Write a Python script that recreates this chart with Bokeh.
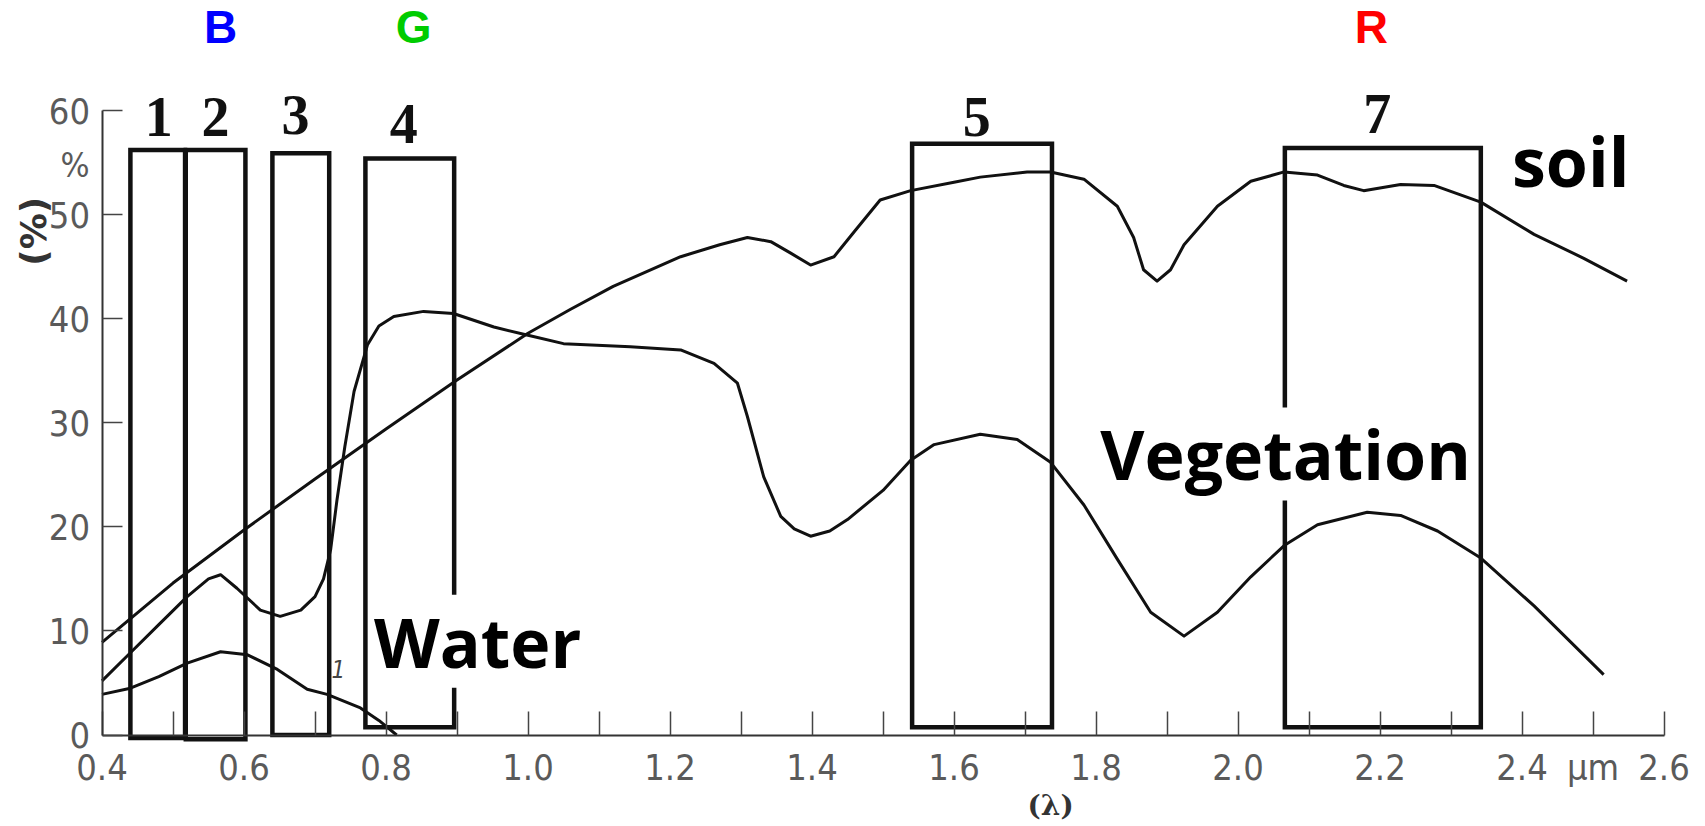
import math
from bokeh.plotting import figure
from bokeh.models import Range1d, LinearAxis, FixedTicker, Label, ColumnDataSource
from bokeh.embed import file_html
from bokeh.resources import INLINE
from bokeh.core.properties import value

# ---------------- data ----------------
soil_wl = [0.40, 0.50, 0.60, 0.70, 0.80, 0.90, 1.00, 1.06, 1.12, 1.215, 1.27, 1.309,
           1.342, 1.37, 1.398, 1.431, 1.46, 1.496, 1.539, 1.60, 1.637, 1.703, 1.736,
           1.783, 1.83, 1.853, 1.867, 1.886, 1.905, 1.924, 1.971, 2.018, 2.065, 2.112,
           2.149, 2.177, 2.229, 2.276, 2.342, 2.417, 2.487, 2.548]
soil_pct = [8.9, 14.6, 19.7, 24.6, 29.4, 34.1, 38.6, 40.9, 43.1, 45.95, 47.1, 47.8,
            47.4, 46.3, 45.15, 45.95, 48.4, 51.4, 52.3, 53.1, 53.6, 54.1, 54.1,
            53.4, 50.8, 47.8, 44.7, 43.6, 44.7, 47.1, 50.8, 53.2, 54.1, 53.8,
            52.8, 52.3, 52.9, 52.8, 51.2, 48.1, 45.8, 43.6]

veg_wl = [0.40, 0.44, 0.48, 0.52, 0.55, 0.567, 0.59, 0.623, 0.651, 0.68, 0.70, 0.712,
          0.722, 0.731, 0.742, 0.755, 0.774, 0.79, 0.811, 0.853, 0.895, 0.952, 1.00,
          1.05, 1.144, 1.215, 1.262, 1.295, 1.309, 1.332, 1.356, 1.375, 1.398, 1.425,
          1.45, 1.50, 1.539, 1.572, 1.637, 1.689, 1.736, 1.783, 1.83, 1.877, 1.924,
          1.971, 2.018, 2.065, 2.112, 2.182, 2.229, 2.281, 2.342, 2.417, 2.515]
veg_pct = [5.2, 7.9, 10.6, 13.3, 15.0, 15.4, 14.1, 12.0, 11.4, 12.0, 13.3, 15.0,
           17.8, 22.6, 27.7, 33.0, 37.5, 39.3, 40.2, 40.7, 40.5, 39.2, 38.4,
           37.6, 37.3, 37.0, 35.7, 33.8, 30.6, 24.8, 21.0, 19.8, 19.1, 19.6,
           20.7, 23.5, 26.4, 27.9, 28.9, 28.4, 26.2, 22.1, 16.9, 11.8, 9.5,
           11.8, 15.2, 18.2, 20.2, 21.4, 21.1, 19.6, 17.0, 12.4, 5.8]

water_wl = [0.40, 0.44, 0.48, 0.52, 0.567, 0.605, 0.647, 0.689, 0.717, 0.764, 0.79, 0.815]
water_pct = [3.9, 4.5, 5.6, 6.9, 8.0, 7.7, 6.3, 4.4, 3.9, 2.6, 1.4, 0.0]

band_names = ["1", "2", "3", "4", "5", "7"]
band_start = [0.440, 0.518, 0.640, 0.771, 1.541, 2.066]
band_end = [0.517, 0.602, 0.720, 0.896, 1.738, 2.342]
band_top = [56.2, 56.2, 55.9, 55.4, 56.8, 56.4]
band_bottom = [-0.3, -0.4, 0.0, 0.75, 0.75, 0.75]
band_label_x = [0.480, 0.560, 0.6725, 0.825, 1.632, 2.196]
band_label_y = [59.4, 59.4, 59.6, 58.7, 59.4, 59.7]

rgb_names = ["B", "G", "R"]
rgb_x = [0.567, 0.839, 2.188]
rgb_y = [68.0, 68.0, 68.0]
rgb_colors = ["#0000ff", "#00cc00", "#ff0000"]

curve_names = ["Water", "Vegetation", "soil"]
curve_label_x = [0.783, 1.806, 2.386]
curve_label_y = [9.0, 27.0, 55.2]

x_ticks = [0.4, 0.6, 0.8, 1.0, 1.2, 1.4, 1.6, 1.8, 2.0, 2.2, 2.4, 2.5, 2.6]
x_tick_labels = ["0.4", "0.6", "0.8", "1.0", "1.2", "1.4", "1.6", "1.8", "2.0",
                 "2.2", "2.4", "\u03bcm", "2.6"]
x_minor_ticks = [0.5, 0.7, 0.9, 1.1, 1.3, 1.5, 1.7, 1.9, 2.1, 2.3]
y_ticks = [0, 10, 20, 30, 40, 50, 60]
y_tick_labels = ["0", "10", "20", "30", "40", "50", "60"]

# ---------------- figure ----------------
p = figure(width=1705, height=826,
           x_range=Range1d(0.25704, 2.65845), y_range=Range1d(-8.791, 70.569),
           x_axis_type=None, y_axis_type=None,
           output_backend="svg", toolbar_location=None, min_border=0)
p.outline_line_color = None
p.background_fill_color = "white"
p.border_fill_color = "white"

TICK_FONT = "Liberation Sans Narrow, DejaVu Sans Condensed, Roboto, sans-serif"

xaxis = LinearAxis(fixed_location=0, bounds=(0.4, 2.6),
                   ticker=FixedTicker(ticks=x_ticks, minor_ticks=x_minor_ticks),
                   major_label_overrides=dict(zip(x_ticks, x_tick_labels)))
xaxis.axis_line_color = "#333333"
xaxis.axis_line_width = 2
xaxis.major_tick_in = 24
xaxis.major_tick_out = 0
xaxis.minor_tick_in = 24
xaxis.minor_tick_out = 0
xaxis.major_tick_line_color = "#444444"
xaxis.minor_tick_line_color = "#444444"
xaxis.major_tick_line_width = 1.5
xaxis.minor_tick_line_width = 1.5
xaxis.major_label_standoff = 12
xaxis.major_label_text_font = TICK_FONT
xaxis.major_label_text_font_size = "36px"
xaxis.major_label_text_color = "#5a5a5a"
p.add_layout(xaxis, "below")

yaxis = LinearAxis(fixed_location=0.4, bounds=(0, 60),
                   ticker=FixedTicker(ticks=y_ticks, minor_ticks=[]),
                   major_label_overrides=dict(zip(y_ticks, y_tick_labels)))
yaxis.axis_line_color = "#333333"
yaxis.axis_line_width = 2
yaxis.major_tick_in = 20
yaxis.major_tick_out = 0
yaxis.minor_tick_in = 0
yaxis.minor_tick_out = 0
yaxis.major_tick_line_color = "#444444"
yaxis.major_tick_line_width = 1.5
yaxis.major_label_standoff = 12
yaxis.major_label_text_font = TICK_FONT
yaxis.major_label_text_font_size = "36px"
yaxis.major_label_text_color = "#5a5a5a"
p.add_layout(yaxis, "left")

# bands (drawn underneath the curves and the curve labels)
band_src = ColumnDataSource(dict(left=band_start, right=band_end, top=band_top,
                                 bottom=band_bottom, name=band_names,
                                 lx=band_label_x, ly=band_label_y))
band_r = p.quad(left="left", right="right", top="top", bottom="bottom", source=band_src,
                fill_color=None, line_color="#111111", line_width=4.5, line_join="miter")
band_r.level = "underlay"
p.text(x="lx", y="ly", text="name", source=band_src,
       text_font=value("Liberation Serif"), text_font_style="bold",
       text_font_size="56px", text_color="#111111",
       text_align="center", text_baseline="middle")

# curve labels (white background hides band edges, curves stay on top)
for name, lx, ly in zip(curve_names, curve_label_x, curve_label_y):
    p.add_layout(Label(x=lx, y=ly, text=name, text_font="Open Sans",
                       text_font_style="bold", text_font_size="68px",
                       text_color="#000000", text_align="left",
                       text_baseline="middle", text_line_height=0.9,
                       background_fill_color="white", level="underlay"))

# curves
p.line(soil_wl, soil_pct, line_color="#111111", line_width=3, line_join="round")
p.line(veg_wl, veg_pct, line_color="#111111", line_width=3, line_join="round")
p.line(water_wl, water_pct, line_color="#111111", line_width=3, line_join="round")

# B G R
rgb_src = ColumnDataSource(dict(x=rgb_x, y=rgb_y, t=rgb_names, c=rgb_colors))
p.text(x="x", y="y", text="t", text_color="c", source=rgb_src,
       text_font=value("Liberation Sans"), text_font_style="bold",
       text_font_size="46px", text_align="center", text_baseline="middle")

# axis decorations
p.text(x=[0.304], y=[48.4], text=["(%)"], angle=math.pi / 2,
       text_font=value("DejaVu Sans"), text_font_style="bold",
       text_font_size="36px", text_color="#333333",
       text_align="center", text_baseline="middle")
p.text(x=[0.362], y=[54.8], text=["%"],
       text_font=value(TICK_FONT), text_font_size="34px", text_color="#5a5a5a",
       text_align="center", text_baseline="middle")
p.text(x=[1.736], y=[-6.8], text=["(\u03bb)"],
       text_font=value("DejaVu Serif"), text_font_style="bold",
       text_font_size="28px", text_color="#333333",
       text_align="center", text_baseline="middle")
p.text(x=[0.733], y=[6.3], text=["1"],
       text_font=value(TICK_FONT), text_font_style="italic",
       text_font_size="24px", text_color="#444444",
       text_align="center", text_baseline="middle")

open("out.html", "w").write(file_html(p, INLINE))
